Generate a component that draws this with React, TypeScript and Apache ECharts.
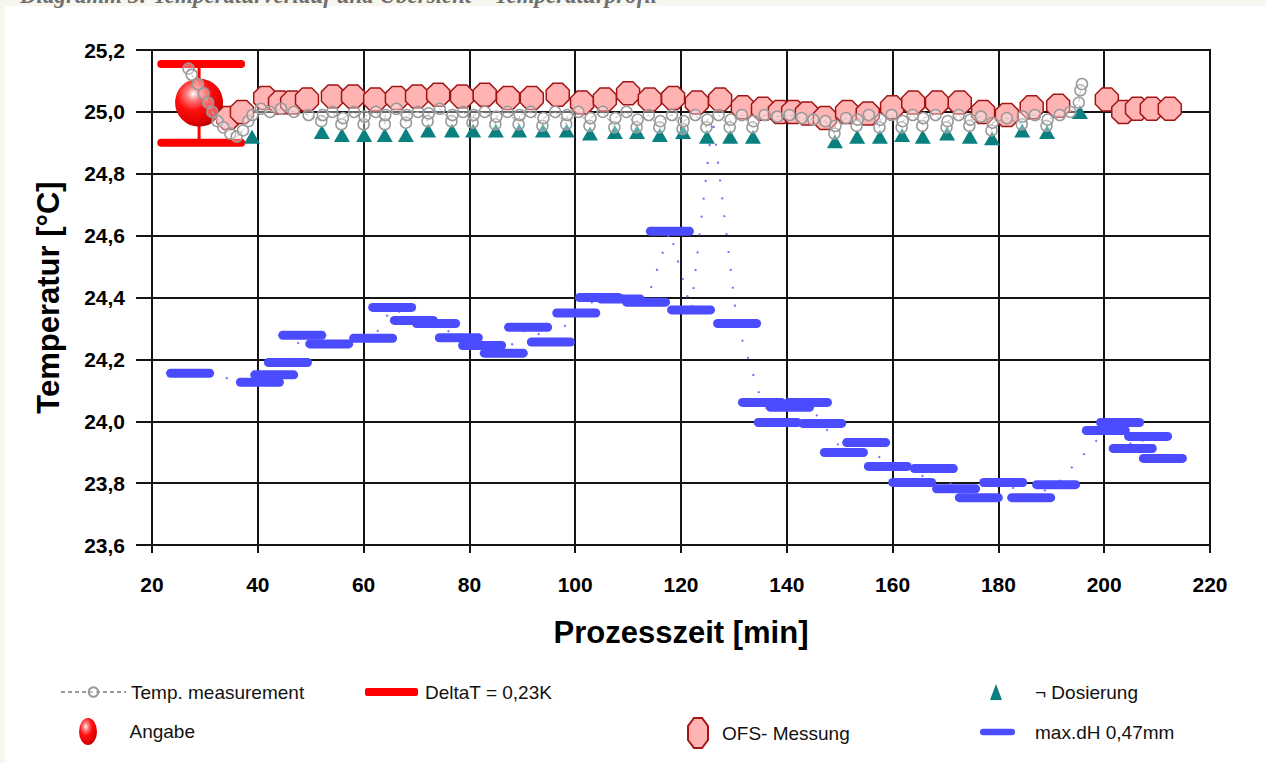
import React, { useEffect, useRef } from "react";
import * as echarts from "echarts";

// ---------- Data ----------
const xTicks = [20, 40, 60, 80, 100, 120, 140, 160, 180, 200, 220];
const yTicks = [23.6, 23.8, 24.0, 24.2, 24.4, 24.6, 24.8, 25.0, 25.2];

const titleText = "Diagramm 3: Temperaturverlauf und Übersicht – Temperaturprofil";
const xName = "Prozesszeit [min]";
const yName = "Temperatur [°C]";

const nameTemp = "Temp. measurement";
const nameDelta = "DeltaT = 0,23K";
const nameDos = "¬ Dosierung";
const nameAngabe = "Angabe";
const nameOfs = "OFS- Messung";
const nameDh = "max.dH 0,47mm";

// Temp. measurement (grey circles, dashed line)
const tempX = [
  26.9, 27.5, 28.7, 29.8, 30.6, 31.4, 32.4, 33.5, 34.8, 36.0, 37.2, 38.2, 39.0, 40.6, 42.3, 44.4, 46.8, 49.6,
  52.0, 52.3, 54.1, 55.8, 56.1, 58.2, 60.0, 60.2, 62.3, 64.0, 64.1, 66.2, 68.0, 68.2, 70.3, 72.1, 72.3, 74.4,
  76.6, 76.8, 78.8, 80.6, 80.8, 82.9, 84.9, 85.1, 87.2, 89.3, 89.5, 91.6, 93.8, 94.0, 96.2, 98.3, 98.5, 100.6,
  102.7, 102.9, 105.2, 107.4, 107.6, 109.7, 111.6, 111.8, 113.9, 115.9, 116.1, 118.3, 120.3, 120.5, 122.7,
  124.8, 125.0, 127.1, 129.2, 129.4, 131.5, 133.5, 133.7, 135.8, 138.2, 140.5, 142.8, 145.0, 147.3, 149.0,
  149.2, 151.2, 153.2, 153.4, 155.5, 157.5, 157.7, 159.8, 161.7, 161.9, 163.8, 165.6, 165.8, 168.1, 170.2,
  170.4, 172.5, 174.5, 174.7, 176.7, 178.7, 178.9, 181.6, 184.4, 184.6, 186.9, 189.1, 189.3, 191.6, 193.6,
  195.2, 195.5, 195.8,
];
const tempY = [
  25.14, 25.12, 25.09, 25.06, 25.03, 25.0, 24.97, 24.95, 24.93, 24.92, 24.94, 24.97, 24.99, 25.01, 25.0, 25.01, 25.0, 24.99,
  24.97, 24.99, 25.0, 24.96, 24.98, 25.0, 24.96, 24.985, 25.0, 24.96, 24.99, 25.01, 24.965, 24.99, 25.0, 24.97, 24.995, 25.01,
  24.97, 24.99, 25.0, 24.965, 24.99, 25.0, 24.96, 24.985, 25.0, 24.96, 24.99, 25.0, 24.955, 24.98, 25.0, 24.96, 24.99, 25.0,
  24.955, 24.98, 25.0, 24.95, 24.98, 25.0, 24.95, 24.975, 24.99, 24.95, 24.97, 24.99, 24.945, 24.97, 24.99,
  24.95, 24.975, 24.99, 24.95, 24.975, 24.99, 24.95, 24.97, 24.99, 24.985, 24.99, 24.98, 24.975, 24.97, 24.93,
  24.955, 24.98, 24.955, 24.975, 24.99, 24.95, 24.975, 24.99, 24.95, 24.97, 24.99, 24.955, 24.98, 24.99, 24.95,
  24.97, 24.99, 24.955, 24.975, 24.985, 24.94, 24.965, 24.98, 24.96, 24.985, 24.99, 24.955, 24.975, 24.99, 25.0,
  25.03, 25.07, 25.09,
];

// DeltaT error bar: centre time, upper cap, lower cap, cap start, cap end
const deltaX = [28.9];
const deltaTop = [25.155];
const deltaBottom = [24.9];
const deltaCapFrom = [21.0];
const deltaCapTo = [37.6];

// Angabe
const angabeX = [28.9];
const angabeY = [25.03];

// OFS- Messung
const ofsX = [
  34.4, 37.0, 41.4, 44.2, 46.5, 49.3, 54.2, 58.0, 62.2, 66.3, 70.1, 74.1, 78.6, 82.9, 87.3, 91.8, 96.7, 101.3,
  105.6, 110.0, 114.1, 118.5, 123.0, 127.4, 131.7, 135.5, 138.7, 141.2, 143.8, 147.2, 151.4, 155.3, 159.9,
  163.9, 168.4, 172.7, 177.1, 181.6, 186.3, 191.3, 200.5, 203.6, 206.2, 209.0, 212.4,
];
const ofsY = [
  24.98, 25.0, 25.045, 25.03, 25.03, 25.04, 25.05, 25.05, 25.04, 25.045, 25.05, 25.055, 25.05, 25.055, 25.045, 25.045, 25.055, 25.03,
  25.04, 25.06, 25.04, 25.045, 25.03, 25.04, 25.015, 25.01, 25.0, 25.0, 24.995, 24.98, 25.0, 24.995, 25.015,
  25.03, 25.03, 25.03, 25.0, 24.99, 25.015, 25.02, 25.04, 25.0, 25.01, 25.01, 25.01,
];

// Dosierung
const dosX = [
  38.9, 52.1, 55.9, 60.1, 64.0, 68.0, 72.2, 76.7, 80.7, 85.0, 89.4, 93.9, 98.4, 102.8, 107.5, 111.7, 116.0,
  120.4, 124.9, 129.3, 133.6, 149.1, 153.3, 157.6, 161.8, 165.7, 170.3, 174.6, 178.8, 184.5, 189.2, 195.4,
];
const dosY = [
  24.92, 24.935, 24.925, 24.925, 24.925, 24.925, 24.94, 24.94, 24.94, 24.94, 24.94, 24.94, 24.94, 24.93, 24.935, 24.935, 24.925,
  24.935, 24.92, 24.92, 24.92, 24.905, 24.92, 24.92, 24.925, 24.92, 24.93, 24.92, 24.915, 24.94, 24.935, 25.0,
];

// max.dH 0,47mm (step marks)
const dhX = [
  27.2, 40.4, 43.1, 45.7, 48.4, 53.5, 61.8, 65.4, 69.5, 73.7, 78.0, 82.4, 86.5, 91.1, 95.4, 100.2, 104.5,
  108.6, 113.4, 117.9, 121.9, 130.6, 135.3, 138.3, 140.6, 144.0, 146.7, 150.8, 155.0, 159.1, 163.7, 167.8,
  172.0, 176.3, 180.9, 186.2, 190.9, 200.3, 203.0, 205.4, 208.3, 211.1,
];
const dhY = [
  24.155, 24.126, 24.15, 24.19, 24.278, 24.25, 24.268, 24.368, 24.326, 24.316, 24.27, 24.245, 24.22, 24.304, 24.256, 24.35, 24.4,
  24.395, 24.385, 24.614, 24.36, 24.316, 24.061, 23.996, 24.045, 24.061, 23.993, 23.899, 23.931, 23.854, 23.802, 23.847,
  23.782, 23.753, 23.802, 23.753, 23.795, 23.97, 23.996, 23.912, 23.951, 23.88,
];
// unmarked peak of the dotted dH trace
const dhPeakX = [126.0];
const dhPeakY = [24.98];

// ---------- Styles ----------
const SANS = "'Liberation Sans', Arial, Helvetica, sans-serif";
const OCTAGON = "path://M7,0 L17,0 L24,7 L24,17 L17,24 L7,24 L0,17 L0,7 Z";
const OCTAGON_TALL = "path://M6,0 L14,0 L20,8 L20,22 L14,30 L6,30 L0,22 L0,8 Z";
const ELLIPSE_TALL = "path://M10,0 A10,15 0 1 1 10,30 A10,15 0 1 1 10,0 Z";
const TRI_TALL = "path://M6,0 L12,16 L0,16 Z";
const DASH = "path://M4.5,0 L43.5,0 A4.5,4.5 0 0 1 43.5,9 L4.5,9 A4.5,4.5 0 0 1 4.5,0 Z";
const fmt = (v: number) => v.toFixed(1).replace(".", ",");

function buildOption(): any {
  const tempData = tempX.map((x, i) => [x, tempY[i]]);
  const ofsData = ofsX.map((x, i) => [x, ofsY[i]]);
  const dosData = dosX.map((x, i) => [x, dosY[i]]);
  const dhAll: any[] = dhX.map((x, i) => ({ value: [x, dhY[i]] }));
  dhPeakX.forEach((x, i) => dhAll.push({ value: [x, dhPeakY[i]], symbol: "none" }));
  dhAll.sort((a, b) => a.value[0] - b.value[0]);
  const deltaData = deltaX.map((x, i) => [x, deltaTop[i], deltaBottom[i], deltaCapFrom[i], deltaCapTo[i]]);
  const angabeData = angabeX.map((x, i) => [x, angabeY[i]]);

  const sphere = {
    type: "radial",
    x: 0.38,
    y: 0.32,
    r: 0.75,
    colorStops: [
      { offset: 0, color: "#ffffff" },
      { offset: 0.18, color: "#ff8080" },
      { offset: 0.45, color: "#ff1010" },
      { offset: 0.8, color: "#e00000" },
      { offset: 1, color: "#a00000" },
    ],
  };

  const legendText = { fontFamily: SANS, fontSize: 19, color: "#111", lineHeight: 22 };
  const mkLegend = (name: string, left: number, top: number, w: number, h: number, pad: number, icon?: string) => ({
    show: true,
    selectedMode: false,
    orient: "horizontal",
    left,
    top,
    padding: 0,
    itemWidth: w,
    itemHeight: h,
    itemGap: 0,
    data: [icon ? { name, icon } : { name }],
    textStyle: { ...legendText, padding: [0, 0, 0, pad] },
  });

  return {
    animation: false,
    backgroundColor: "#f8f7ef",
    graphic: [
      { type: "rect", z: -10, shape: { x: 5, y: 6, width: 1270, height: 770 }, style: { fill: "#ffffff" } },
      {
        type: "text",
        x: 20,
        y: 7,
        z: -5,
        style: {
          text: titleText,
          fill: "#6f6f6f",
          font: "italic bold 23px 'Liberation Serif', 'DejaVu Serif', serif",
          textVerticalAlign: "bottom",
          verticalAlign: "bottom",
        },
      },
    ],
    grid: {
      left: 152,
      right: 56,
      top: 50,
      bottom: 218,
      show: true,
      borderColor: "#151515",
      borderWidth: 2,
      backgroundColor: "transparent",
    },
    xAxis: {
      type: "value",
      min: xTicks[0],
      max: xTicks[xTicks.length - 1],
      interval: xTicks[1] - xTicks[0],
      name: xName,
      nameLocation: "middle",
      nameGap: 72,
      nameTextStyle: { fontFamily: SANS, fontSize: 31, fontWeight: "bold", color: "#000" },
      axisLine: { show: true, lineStyle: { color: "#151515", width: 2 } },
      axisTick: { show: true, inside: false, length: 8, lineStyle: { color: "#151515", width: 2 } },
      axisLabel: {
        margin: 29,
        fontFamily: SANS,
        fontSize: 21,
        fontWeight: "bold",
        color: "#000",
        formatter: (v: number) => String(Math.round(v)),
      },
      splitLine: { show: true, lineStyle: { color: "#151515", width: 2 } },
    },
    yAxis: {
      type: "value",
      min: yTicks[0],
      max: yTicks[yTicks.length - 1],
      interval: 0.2,
      name: yName,
      nameLocation: "middle",
      nameGap: 88,
      nameTextStyle: { fontFamily: SANS, fontSize: 31, fontWeight: "bold", color: "#000" },
      axisLine: { show: true, lineStyle: { color: "#151515", width: 2 } },
      axisTick: { show: true, inside: false, length: 16, lineStyle: { color: "#151515", width: 2 } },
      axisLabel: {
        margin: 27,
        fontFamily: SANS,
        fontSize: 21,
        fontWeight: "bold",
        color: "#000",
        formatter: (v: number) => fmt(v),
      },
      splitLine: { show: true, lineStyle: { color: "#151515", width: 2 } },
    },
    legend: [
      mkLegend(nameTemp, 60, 681, 65, 12, 0),
      mkLegend(nameDelta, 365, 681, 53, 8, 2, "roundRect"),
      mkLegend(nameDos, 990, 681, 12, 16, 28, TRI_TALL),
      mkLegend(nameAngabe, 79, 718, 19, 27, 27, ELLIPSE_TALL),
      mkLegend(nameOfs, 687, 717, 22, 30, 8, OCTAGON_TALL),
      mkLegend(nameDh, 980, 721, 35, 10, 15, DASH),
    ],
    series: [
      {
        name: nameDelta,
        type: "custom",
        z: 2,
        itemStyle: { color: "#ff0000" },
        data: deltaData,
        encode: { x: [0, 3, 4], y: [1, 2] },
        renderItem: (params: any, api: any) => {
          const x = api.value(0);
          const top = api.value(1);
          const bot = api.value(2);
          const pTop = api.coord([x, top]);
          const pBot = api.coord([x, bot]);
          const l = api.coord([api.value(3), top]);
          const r = api.coord([api.value(4), top]);
          const capH = 8;
          const fill = "#ff0000";
          return {
            type: "group",
            children: [
              { type: "rect", shape: { x: pTop[0] - 1.5, y: pTop[1], width: 3, height: pBot[1] - pTop[1] }, style: { fill } },
              { type: "rect", shape: { x: l[0], y: pTop[1] - capH / 2, width: r[0] - l[0], height: capH, r: 4 }, style: { fill } },
              { type: "rect", shape: { x: l[0], y: pBot[1] - capH / 2, width: r[0] - l[0], height: capH, r: 4 }, style: { fill } },
            ],
          };
        },
      },
      {
        name: nameAngabe,
        type: "scatter",
        z: 3,
        symbol: "circle",
        symbolSize: 48,
        itemStyle: { color: sphere, opacity: 1 },
        data: angabeData,
      },
      {
        name: nameOfs,
        type: "scatter",
        z: 4,
        symbol: OCTAGON,
        symbolSize: 23,
        itemStyle: { color: "#ffb3b3", borderColor: "#a31515", borderWidth: 1.5, opacity: 1 },
        data: ofsData,
      },
      {
        name: nameDos,
        type: "scatter",
        z: 5,
        symbol: "triangle",
        symbolSize: [16, 14],
        itemStyle: { color: "#0a8080", opacity: 1 },
        data: dosData,
      },
      {
        name: nameDh,
        type: "line",
        z: 6,
        symbol: DASH,
        symbolSize: [48, 9],
        showSymbol: true,
        showAllSymbol: true,
        itemStyle: { color: "#4b4bff", opacity: 1 },
        lineStyle: { color: "#6e6eff", width: 2, type: [2, 16] },
        data: dhAll,
      },
      {
        name: nameTemp,
        type: "line",
        z: 7,
        symbol: "circle",
        symbolSize: 11,
        showSymbol: true,
        showAllSymbol: true,
        itemStyle: { color: "rgba(255,255,255,0.35)", borderColor: "#999999", borderWidth: 1.5, opacity: 1 },
        lineStyle: { color: "#9a9a9a", width: 1, type: [4, 3] },
        data: tempData,
      },
    ],
  };
}

export default function App() {
  const ref = useRef<HTMLDivElement>(null);
  useEffect(() => {
    if (!ref.current) return;
    const chart = echarts.init(ref.current, undefined, { renderer: "svg" });
    chart.setOption(buildOption());
    return () => chart.dispose();
  }, []);
  return (
    <div
      ref={ref}
      style={{ position: "absolute", left: 0, top: 0, width: 1266, height: 763 }}
    />
  );
}
